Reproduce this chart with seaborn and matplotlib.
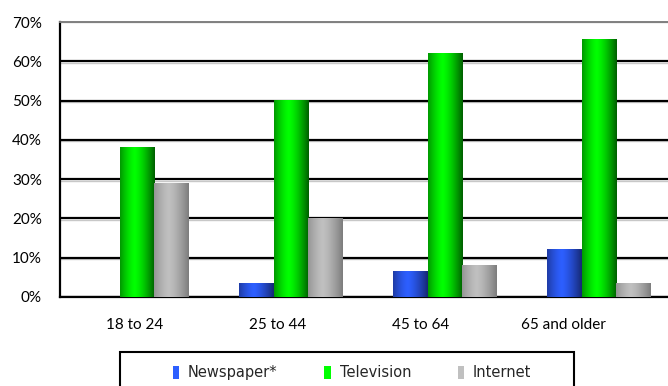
import numpy as np
import pandas as pd
import matplotlib
matplotlib.use("Agg")
import matplotlib.pyplot as plt
from matplotlib.patches import Rectangle
import seaborn as sns

# ---- data ----
age_groups = ["18 to 24", "25 to 44", "45 to 64", "65 and older"]
media = ["Newspaper*", "Television", "Internet"]
newspaper = [0.0, 3.5, 6.5, 12.0]
television = [38.0, 50.0, 62.0, 65.5]
internet = [29.0, 20.0, 8.0, 3.5]
y_ticks = [0, 10, 20, 30, 40, 50, 60, 70]

df = pd.DataFrame({
    "age": age_groups * 3,
    "medium": [media[0]] * 4 + [media[1]] * 4 + [media[2]] * 4,
    "value": newspaper + television + internet,
})

# colours: (dark edge, light centre)
shades = {
    "Newspaper*": ((22, 40, 115), (45, 95, 255)),
    "Television": ((0, 95, 0), (0, 255, 0)),
    "Internet": ((125, 125, 125), (192, 192, 192)),
}
mid = {k: tuple(c / 255 for c in v[1]) for k, v in shades.items()}

sns.set_theme(style="white")
fig = plt.figure(figsize=(6.68, 3.86), dpi=100)
ax = fig.add_axes([60 / 668, 89 / 386, 616 / 668, 275 / 386])

sns.barplot(data=df, x="age", y="value", hue="medium", hue_order=media,
            palette=mid, width=0.68, ax=ax, legend=False, saturation=1,
            errorbar=None)

# gradient fill for each bar
t = np.linspace(0, 1, 64)
prof = np.clip(1 - np.abs((t - 0.42) / 0.58) ** 1.4, 0, 1)
color_to_medium = {tuple(np.round(v, 3)): k for k, v in mid.items()}
for p in list(ax.patches):
    h = p.get_height()
    w = p.get_width()
    if h <= 0 or w <= 0:
        p.set_visible(False)
        continue
    fc = tuple(np.round(p.get_facecolor()[:3], 3))
    m = color_to_medium.get(fc)
    if m is None:
        continue
    dark = np.array(shades[m][0]) / 255
    light = np.array(shades[m][1]) / 255
    row = dark[None, :] + (light - dark)[None, :] * prof[:, None]
    img = np.repeat(row[None, :, :], 2, axis=0)
    x0 = p.get_x()
    ax.imshow(img, extent=[x0, x0 + w, 0, h], aspect="auto", zorder=3,
              interpolation="bilinear")
    p.set_visible(False)

ax.set_xlim(-0.5, 3.5)
ax.set_ylim(0, 70)
ax.set_yticks(y_ticks)
ax.set_yticklabels([f"{v}%" for v in y_ticks])
ax.set_xticks(np.arange(4) * 0.928 - 0.016)
ax.set_xticklabels(age_groups)
ax.set_xlabel("")
ax.set_ylabel("")

ax.set_axisbelow(True)
# subtle shadow under each grid line (3D look of the original)
for v in y_ticks[1:-1]:
    ax.axhline(v - 0.35, color="#c8c8c8", linewidth=1.0, zorder=0.4)
ax.yaxis.grid(True, color="black", linewidth=1.6)
ax.get_ygridlines()[-1].set_color("#808080")
ax.xaxis.grid(False)

ax.spines["right"].set_visible(False)
ax.spines["top"].set_color("#808080")
ax.spines["top"].set_linewidth(1.4)
ax.spines["left"].set_color("black")
ax.spines["left"].set_linewidth(1.6)
ax.spines["bottom"].set_color("black")
ax.spines["bottom"].set_linewidth(1.6)

ax.tick_params(axis="both", length=0, labelsize=11, colors="black")
ax.tick_params(axis="y", pad=13)
ax.tick_params(axis="x", pad=15)
for lab in ax.get_xticklabels() + ax.get_yticklabels():
    lab.set_fontfamily("Lato")

# legend
handles = [Rectangle((0, 0), 1, 1, facecolor=mid[m], edgecolor="none") for m in media]
fig.legend(handles, media, loc="center", bbox_to_anchor=(0.527, 0.034),
           ncol=3, frameon=False, handlelength=0.45, handleheight=0.95,
           handletextpad=0.6, columnspacing=3.2,
           prop={"family": "DejaVu Sans", "size": 10.5})
fig.patches.append(Rectangle((120 / 668, -0.05), 454 / 668, 0.05 + 34 / 386,
                             transform=fig.transFigure, fill=False,
                             edgecolor="black", linewidth=1.5))

fig.savefig("out.png", dpi=100)
